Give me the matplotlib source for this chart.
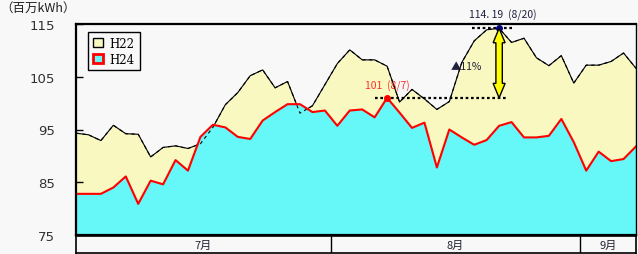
import matplotlib
matplotlib.use("Agg")
import matplotlib.pyplot as plt
import numpy as np
from matplotlib.patches import Patch, Polygon

plt.rcParams['font.family'] = ['Noto Sans CJK JP', 'DejaVu Sans']

# ---- data ----
h22 = [94.3, 94.0, 92.9, 95.8, 94.2, 94.1, 89.8, 91.6, 91.9, 91.4,
       92.3, 95.4, 99.7, 102.0, 105.2, 106.3, 102.9, 104.1, 98.1, 99.5,
       103.5, 107.5, 110.1, 108.2, 108.2, 107.0, 100.2, 102.6, 100.8, 98.8,
       100.3, 107.7, 111.8, 113.9, 114.19, 111.5, 112.3, 108.6, 107.1, 109.0,
       103.8, 107.2, 107.2, 107.9, 109.5, 106.6]
h24 = [82.8, 82.8, 82.8, 84.0, 86.1, 80.9, 85.3, 84.6, 89.2, 87.2,
       93.6, 95.9, 95.4, 93.6, 93.2, 96.7, 98.3, 99.8, 99.8, 98.3,
       98.6, 95.7, 98.6, 98.8, 97.3, 101.0, 98.2, 95.3, 96.3, 87.8,
       95.0, 93.5, 92.1, 93.0, 95.7, 96.4, 93.5, 93.5, 93.8, 97.0,
       92.6, 87.2, 90.8, 89.0, 89.4, 91.8]
months = ['7月', '8月', '9月']
month_counts = [21, 20, 5]
yticks = [75, 85, 95, 105, 115]
series_names = ['H22', 'H24']
peak22_idx, peak22_label = 34, '114. 19  (8/20)'
peak24_idx, peak24_label = 25, '101  (8/7)'
diff_label = '▲11%'

BG = '#F8F8F8'
YEL = '#F8F8C0'
CYAN = '#66F8F8'

W, H = 638, 255
fig = plt.figure(figsize=(W / 100, H / 100), dpi=100, facecolor=BG)
L, R, T, B = 76, 636, 25, 236
ax = fig.add_axes([L / W, (H - B) / H, (R - L) / W, (B - T) / H])
ax.set_facecolor(BG)

x = np.arange(len(h22))
ax.set_xlim(0, len(h22) - 1)
ax.set_ylim(75, 115)

ax.fill_between(x, 75, h22, color=YEL, lw=0, zorder=1)
ax.plot(x, h22, color='black', lw=0.8, zorder=2)
ax.fill_between(x, 75, h24, color=CYAN, lw=0, zorder=3)
ax.plot(x, h22, color='black', lw=0.8, ls=(0, (3, 3)), zorder=4)
ax.plot(x, h24, color='#FF0000', lw=1.5, zorder=5)

# ticks
ax.set_yticks(yticks)
ax.set_yticklabels([str(v) for v in yticks], fontsize=9.5, family=['DejaVu Sans'])
ax.tick_params(axis='y', direction='in', length=5, width=1, pad=15, colors='black',
               labelcolor='#303030')
ax.set_xticks(x)
ax.set_xticklabels([])
ax.tick_params(axis='x', direction='in', length=3, width=0.8)
for s in ax.spines.values():
    s.set_linewidth(1.6)
    s.set_zorder(10)
ax.spines['right'].set_linewidth(1.0)

# annotations
y_hi = h22[peak22_idx]
y_lo = h24[peak24_idx]
ax.plot([31.8, 35.1], [y_hi, y_hi], color='black', lw=1.6, ls=(0, (1.2, 1.2)), zorder=6)
ax.plot([24.0, 34.6], [y_lo, y_lo], color='black', lw=1.6, ls=(0, (1.2, 1.2)), zorder=6)
ax.plot([peak22_idx], [y_hi], 'o', color='#000080', ms=4, zorder=8, clip_on=False)
ax.plot([peak24_idx], [y_lo], 'o', color='#FF0000', ms=4, zorder=8)
ax.text(peak22_idx + 0.3, y_hi + 1.5, peak22_label, ha='center', va='bottom',
        fontsize=7.5, color='#202040')
ax.text(peak24_idx - 0.0, y_lo + 1.3, peak24_label, ha='center', va='bottom',
        fontsize=7.5, color='#FF3030')
ax.text(31.4, 107.1, diff_label, ha='center', va='center', fontsize=7.5, color='#202040')

# fat double arrow (yellow) computed in pixel space from the data values
fig.canvas.draw()
px, py_hi = ax.transData.transform((peak22_idx, y_hi))
_, py_lo = ax.transData.transform((peak22_idx, y_lo))
bw, hw, hl = 3.2, 6.0, 14.5
pts = [(px, py_hi), (px + hw, py_hi - hl), (px + bw, py_hi - hl),
       (px + bw, py_lo + hl), (px + hw, py_lo + hl), (px, py_lo),
       (px - hw, py_lo + hl), (px - bw, py_lo + hl), (px - bw, py_hi - hl),
       (px - hw, py_hi - hl)]
arrow = Polygon(pts, closed=True, facecolor='#FFFF00', edgecolor='black', lw=1.0,
                transform=None, zorder=7)
fig.patches.append(arrow)

# legend
handles = [Patch(facecolor=YEL, edgecolor='black', lw=1.0),
           Patch(facecolor=CYAN, edgecolor='#FF0000', lw=2.0)]
leg = ax.legend(handles, series_names, loc='upper left',
                bbox_to_anchor=((88 - L) / (R - L), 1 - (33 - T) / (B - T)),
                borderaxespad=0, fancybox=False, framealpha=1, edgecolor='black',
                facecolor=BG, prop={'family': ['DejaVu Serif'], 'size': 8.5},
                handlelength=0.85, handleheight=0.85, handletextpad=0.6,
                labelspacing=0.25, borderpad=0.4)
leg.get_frame().set_linewidth(1.0)
leg.set_zorder(12)

# month band
bx = fig.add_axes([L / W, 1 / H, (R - L) / W, 17 / H])
bx.set_facecolor(BG)
bx.set_xlim(0, len(h22) - 1)
bx.set_ylim(0, 1)
bx.set_xticks([])
bx.set_yticks([])
for s in bx.spines.values():
    s.set_linewidth(1.2)
start = 0
for name, cnt in zip(months, month_counts):
    end = start + cnt
    lo = max(start - 0.5, 0)
    hi = min(end - 0.5, len(h22) - 1)
    bx.text((lo + hi) / 2, 0.45, name, ha='center', va='center', fontsize=8, color='#202030')
    if end < len(h22):
        bx.axvline(end - 0.5, color='black', lw=1.0)
    start = end

fig.text(0, 1 - 8 / H, '（百万kWh）', ha='left', va='center', fontsize=9, color='#202020')

fig.savefig('out.png', dpi=100, facecolor=BG)
